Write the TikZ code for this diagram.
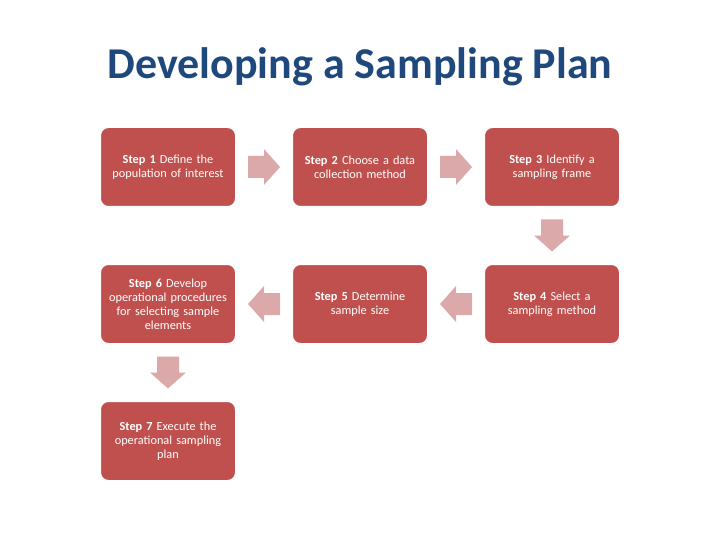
\documentclass[tikz,border=0pt]{standalone}
\usepackage{fontspec}
\setmainfont{Carlito}
\usetikzlibrary{calc}
\definecolor{boxred}{HTML}{C0504D}
\definecolor{arrowpink}{HTML}{DBA9AA}
\definecolor{titleblue}{HTML}{1F497D}
\begin{document}
\begin{tikzpicture}[x=1pt,y=-1pt,
  stepbox/.style={draw=white, line width=1pt, fill=boxred, rounded corners=8pt,
    minimum width=135pt, minimum height=79pt, text width=132pt, align=center,
    text=white, font=\fontsize{12.3}{14}\selectfont, inner sep=1pt},
  blockarr/.pic={\fill[arrowpink] (-16,-11) -- (0,-11) -- (0,-18) -- (16,0) -- (0,18) -- (0,11) -- (-16,11) -- cycle;}]
\useasboundingbox (0,0) rectangle (720,540);
\node[font=\fontsize{44}{50}\selectfont\bfseries, text=titleblue] (title) at (360,67) {Developing a Sampling Plan};
\node[stepbox] (s1) at (168,167) {\textbf{Step 1} Define the\\population of interest};
\node[stepbox] (s2) at (360,167) {\textbf{Step 2} Choose a data\\collection method};
\node[stepbox] (s3) at (552,167) {\textbf{Step 3} Identify a\\sampling frame};
\node[stepbox] (s4) at (552,304) {\textbf{Step 4} Select a\\sampling method};
\node[stepbox] (s5) at (360,304) {\textbf{Step 5} Determine\\sample size};
\node[stepbox] (s6) at (168,304) {\textbf{Step 6} Develop\\operational procedures\\for selecting sample\\elements};
\node[stepbox] (s7) at (168,441) {\textbf{Step 7} Execute the\\operational sampling\\plan};
\coordinate (a12) at ($(s1)!0.5!(s2)$);
\coordinate (a23) at ($(s2)!0.5!(s3)$);
\coordinate (a34) at ($(s3)!0.5!(s4)$);
\coordinate (a45) at ($(s4)!0.5!(s5)$);
\coordinate (a56) at ($(s5)!0.5!(s6)$);
\coordinate (a67) at ($(s6)!0.5!(s7)$);
\pic at (a12) {blockarr};
\pic at (a23) {blockarr};
\pic[rotate=-90] at (a34) {blockarr};
\pic[rotate=180] at (a45) {blockarr};
\pic[rotate=180] at (a56) {blockarr};
\pic[rotate=-90] at (a67) {blockarr};
\end{tikzpicture}
\end{document}
